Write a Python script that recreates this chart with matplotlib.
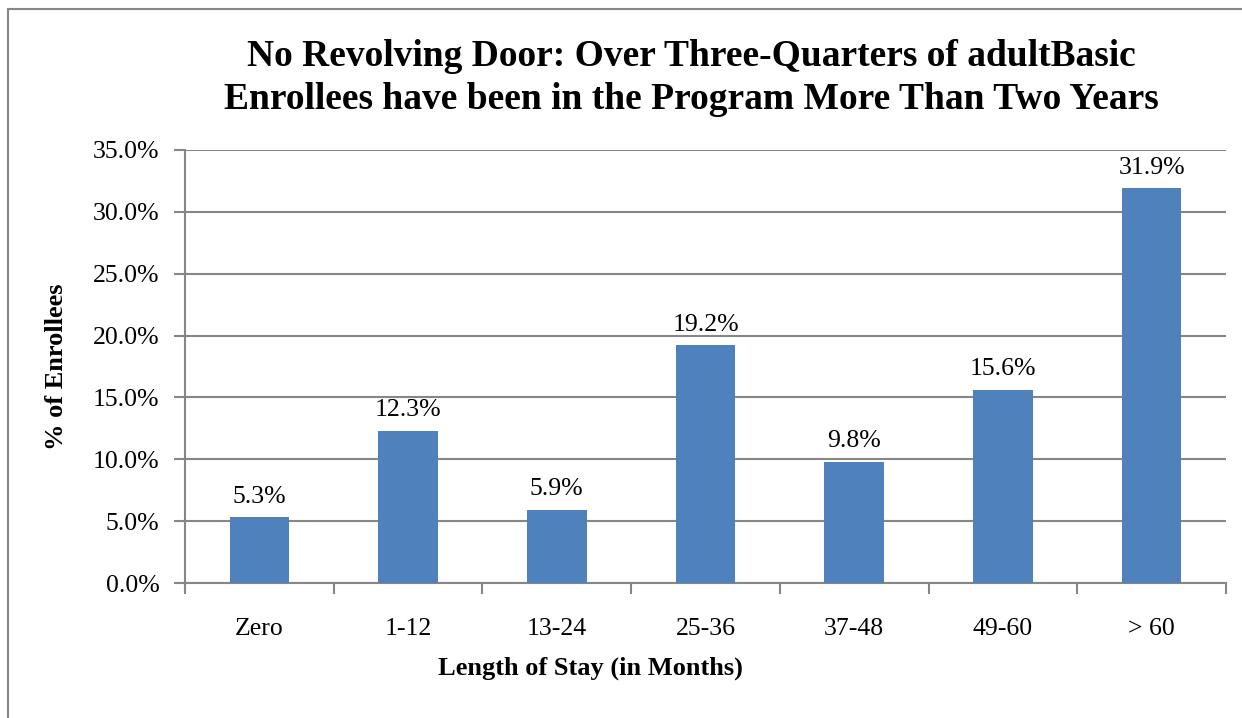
import matplotlib
matplotlib.use("Agg")
import matplotlib.pyplot as plt
from matplotlib.lines import Line2D
from matplotlib.ticker import FixedLocator, FuncFormatter

categories = ["Zero", "1-12", "13-24", "25-36", "37-48", "49-60", "> 60"]
values = [5.3, 12.3, 5.9, 19.2, 9.8, 15.6, 31.9]
yticks = [0, 5, 10, 15, 20, 25, 30, 35]

plt.rcParams['font.family'] = ['Liberation Serif', 'DejaVu Serif']

W, H = 1242, 718
L, R, T, B = 185, 1226, 150, 583
fig = plt.figure(figsize=(W/100, H/100), dpi=100)
ax = fig.add_axes([L/W, 1-B/H, (R-L)/W, (B-T)/H])

grey = "#868686"
fs = 18.5
x = list(range(len(categories)))
ax.bar(x, values, width=0.4, color="#4F81BD", zorder=3)
for xi, v in zip(x, values):
    ax.annotate(f"{v:.1f}%", (xi, v), xytext=(0, 7), textcoords="offset points",
                ha="center", va="bottom", fontsize=fs)

ax.set_xlim(-0.5, len(categories)-0.5)
ax.set_ylim(0, 35)
ax.set_yticks(yticks)
ax.yaxis.set_major_formatter(FuncFormatter(lambda v, p: f"{v:.1f}%"))
ax.grid(axis="y", color=grey, linewidth=1.5, zorder=0)
ax.set_xticks(x)
ax.set_xticklabels(categories, fontsize=fs)
ax.xaxis.set_minor_locator(FixedLocator([i - 0.5 for i in range(len(categories)+1)]))
ax.tick_params(axis="x", which="major", length=0, pad=25.5)
ax.tick_params(axis="x", which="minor", length=8, width=1.5, color=grey)
ax.tick_params(axis="y", length=8, width=1.5, color=grey, labelsize=fs, pad=10.5)
for s in ["top", "right"]:
    ax.spines[s].set_visible(False)
for s in ["left", "bottom"]:
    ax.spines[s].set_color(grey)
    ax.spines[s].set_linewidth(1.5)

ax.set_ylabel("% of Enrollees", fontsize=19, fontweight="bold")
ax.yaxis.set_label_coords(-(L-57)/(R-L), 0.5, transform=ax.transAxes)
ax.yaxis.label.set_va("center")
ax.set_xlabel("Length of Stay (in Months)", fontsize=19, fontweight="bold")
ax.xaxis.set_label_coords((590-L)/(R-L), -(668-B)/(B-T), transform=ax.transAxes)
ax.xaxis.label.set_va("center")
ax.set_title("No Revolving Door: Over Three-Quarters of adultBasic\nEnrollees have been in the Program More Than Two Years",
             fontsize=27, fontweight="bold", pad=29.5, linespacing=1.28,
             x=(691-L)/(R-L))

# outer chart border (left and top visible)
fig.add_artist(Line2D([7.5/W, 7.5/W], [0, 1-9/H], color=grey, linewidth=1.5))
fig.add_artist(Line2D([7.5/W, 1], [1-9/H, 1-9/H], color=grey, linewidth=1.5))

fig.savefig("out.png", dpi=100)
